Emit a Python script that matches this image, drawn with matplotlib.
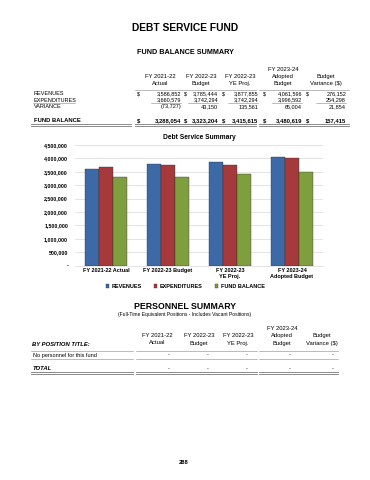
import numpy as np
import matplotlib
matplotlib.use("Agg")
import matplotlib.pyplot as plt
from matplotlib.lines import Line2D
from matplotlib.ticker import FuncFormatter, MultipleLocator

# --- Data ---
col_headers = ["FY 2021-22\nActual", "FY 2022-23\nBudget", "FY 2022-23\nYE Proj.",
               "FY 2023-24\nAdopted\nBudget", "Budget\nVariance ($)"]
categories = ["FY 2021-22 Actual", "FY 2022-23 Budget", "FY 2022-23\nYE Proj.",
              "FY 2023-24\nAdopted Budget"]
revenues = [3586852, 3785444, 3877855, 4061596]
expenditures = [3660579, 3742294, 3742294, 3996592]
variance = [-73727, 43150, 135561, 65004]
fund_balance = [3288054, 3323204, 3415615, 3480619]
budget_var = [276152, 254298, 21854, 157415]
series_names = ["REVENUES", "EXPENDITURES", "FUND BALANCE"]
series_colors = ["#3d69a6", "#a6393b", "#7f9e3e"]
personnel_rows = ["No personnel for this fund"]

# --- Page setup (pixel helpers, y measured from top) ---
W, H = 370, 480
plt.rcParams["font.family"] = ["Liberation Sans", "DejaVu Sans"]
fig = plt.figure(figsize=(W / 100, H / 100), dpi=100)


def txt(x, y, s, size=4.2, ha="left", va="center", **kw):
    fig.text(x / W, 1 - y / H, s, fontsize=size, ha=ha, va=va, **kw)


def hline(x1, x2, y, lw=0.4, color="#888888"):
    fig.add_artist(Line2D([x1 / W, x2 / W], [1 - y / H, 1 - y / H],
                          transform=fig.transFigure, lw=lw, color=color))


def dline(x1, x2, y):
    hline(x1, x2, y, lw=0.6, color="#777777")
    hline(x1, x2, y + 1.5, lw=0.6, color="#777777")


def money(v):
    return f"({abs(v):,})" if v < 0 else f"{v:,}"


# --- Titles ---
txt(185, 28, "DEBT SERVICE FUND", size=7.4, ha="center", weight="bold")
txt(185, 52, "FUND BALANCE SUMMARY", size=5.2, ha="center", weight="bold")

# --- Fund balance table ---
hdr_x = [160, 201, 240, 283, 326]
dol_x = [137, 184, 222, 263, 306]
num_x = [181, 218, 258, 302, 346]
for cx, h in zip(hdr_x, col_headers):
    txt(cx, 86, h, ha="center", va="bottom", linespacing=1.55)
hline(135, 256, 89.5)
hline(259, 349, 89.5)

rows = [("REVENUES", revenues + [budget_var[0]], 93.5, True),
        ("EXPENDITURES", expenditures + [budget_var[1]], 100, False),
        ("VARIANCE", variance + [budget_var[2]], 106.5, False)]
for label, vals, y, dollar in rows:
    txt(34, y, label, size=4.0)
    for i, v in enumerate(vals):
        if dollar:
            txt(dol_x[i], y, "$", size=4.0)
        txt(num_x[i], y, money(v), size=4.0, ha="right")
# underline under expenditures row
hline(33, 75, 103)
for i in range(5):
    hline(num_x[i] - 30, num_x[i], 103)

fb_vals = fund_balance + [budget_var[3]]
txt(34, 120.5, "FUND BALANCE", size=4.2, weight="bold")
for i, v in enumerate(fb_vals):
    txt(dol_x[i], 120.5, "$", size=4.2, weight="bold")
    txt(num_x[i], 120.5, money(v), size=4.2, ha="right", weight="bold")
dline(31, 131, 124)
dline(135, 256, 124)
dline(259, 349, 124)

# --- Chart ---
ax = fig.add_axes([75 / W, 1 - 265.5 / H, 248 / W, 120.5 / H])
x = np.arange(len(categories))
bw = 0.226
for k, (vals, c) in enumerate(zip([revenues, expenditures, fund_balance], series_colors)):
    ax.bar(x + (k - 1) * bw, vals, width=bw, color=c, edgecolor="#2a2a2a",
           linewidth=0.25, label=series_names[k], zorder=3)
ax.set_xlim(-0.5, len(categories) - 0.5)
ax.set_ylim(0, 4500000)
ax.yaxis.set_major_locator(MultipleLocator(500000))
ax.yaxis.set_major_formatter(FuncFormatter(lambda v, p: "-" if v == 0 else f"{v:,.0f}"))
ax.grid(axis="y", color="#d9d9d9", lw=0.5, zorder=0)
for s in ["top", "right", "left"]:
    ax.spines[s].set_visible(False)
ax.spines["bottom"].set_color("#d9d9d9")
ax.spines["bottom"].set_linewidth(0.5)
ax.set_xticks(x)
ax.set_xticklabels(categories, fontsize=4.0, weight="bold", linespacing=1.3)
ax.tick_params(axis="both", length=0, pad=2)
ax.tick_params(axis="y", labelsize=3.8, pad=5)
for t in ax.get_yticklabels():
    t.set_fontweight("bold")
ax.set_title("Debt Service Summary", fontsize=4.8, weight="bold", pad=4)

fig.legend(loc="center", bbox_to_anchor=(185 / W, 1 - 286.5 / H), ncol=3,
           frameon=False, prop={"size": 4.0, "weight": "bold"},
           handlelength=0.55, handleheight=0.55, handletextpad=0.5, columnspacing=2.2)

# --- Personnel summary ---
txt(185, 306.5, "PERSONNEL SUMMARY", size=6.3, ha="center", weight="bold")
txt(185, 314.5, "(Full-Time Equivalent Positions - Includes Vacant Positions)",
    size=3.6, ha="center")
p_hdr_x = [157, 199, 238, 282, 322]
p_dash_x = [170, 209, 248, 291, 334]
for cx, h in zip(p_hdr_x, col_headers):
    txt(cx, 345.5, h, ha="center", va="bottom", linespacing=1.55)
txt(32, 345, "BY POSITION TITLE:", size=4.2, weight="bold", style="italic")
hline(31, 133, 350.5)
hline(136, 257, 350.5)
hline(259, 338, 350.5)
for j, r in enumerate(personnel_rows):
    y = 355 + j * 7
    txt(33, y, r, size=4.0)
    for dx in p_dash_x:
        txt(dx, y, "-", size=4.0, ha="right")
hline(31, 133, 359)
hline(136, 257, 359)
hline(259, 338, 359)
txt(33, 368.5, "TOTAL", size=4.2, weight="bold", style="italic")
for dx in p_dash_x:
    txt(dx, 368.5, "-", size=4.0, ha="right")
dline(31, 133, 372)
dline(136, 257, 372)
dline(259, 338, 372)

txt(184, 463, "288", size=4.2, ha="center", weight="bold")

fig.savefig("out.png", dpi=100)
